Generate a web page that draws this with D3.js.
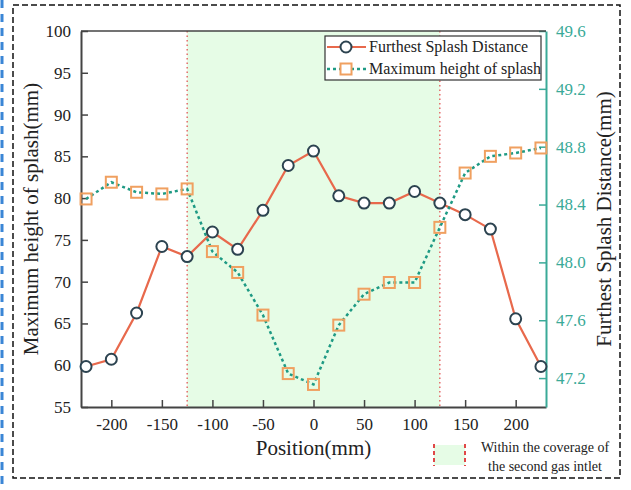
<!DOCTYPE html>
<html><head><meta charset="utf-8">
<script src="https://cdn.jsdelivr.net/npm/d3@7"></script>
<style>body{margin:0;background:#fff;}svg{display:block;font-family:"Liberation Serif","Times New Roman",serif;}</style>
</head><body>
<script>
const positions = [-225,-200,-175,-150,-125,-100,-75,-50,-25,0,25,50,75,100,125,150,175,200,225];
const furthestDistance = [47.28,47.33,47.65,48.11,48.04,48.21,48.09,48.36,48.67,48.77,48.46,48.41,48.41,48.49,48.41,48.33,48.23,47.61,47.28];
const maxHeight = [79.9,81.9,80.7,80.5,81.1,73.6,71.1,66.0,59.0,57.7,64.8,68.5,69.9,69.9,76.5,83.0,85.0,85.4,86.0];
const xTicks = [-200,-150,-100,-50,0,50,100,150,200];
const leftTicks = [55,60,65,70,75,80,85,90,95,100];
const rightTicks = [47.2,47.6,48.0,48.4,48.8,49.2,49.6];
const bandRange = [-125,125];
const seriesNames = ["Furthest Splash Distance","Maximum height of splash"];

const W=631,H=490;
const m={l:81,r:546,t:31,b:407};
const svg=d3.select("body").append("svg").attr("width",W).attr("height",H);

const x=d3.scaleLinear().domain([-230,230]).range([m.l,m.r]);
const yL=d3.scaleLinear().domain([55,100]).range([m.b,m.t]);
const yR=d3.scaleLinear().domain([47.0,49.6]).range([m.b,m.t]);

const cOrange="#e8694c", cTeal="#1e9a84", cSquare="#f0a060", cCircle="#2c4350", cAxisR="#3aaa98", cBand="#e6fce6", cRed="#e04848";

// outer frame
svg.append("line").attr("x1",2).attr("x2",2).attr("y1",0).attr("y2",H).attr("stroke","#3b86d6").attr("stroke-width",3).attr("stroke-dasharray","8,6");
svg.append("rect").attr("x",13).attr("y",5).attr("width",607).attr("height",473).attr("fill","none").attr("stroke","#111").attr("stroke-width",1.5).attr("stroke-dasharray","6,3");

// band
svg.append("rect").attr("x",x(bandRange[0])).attr("y",m.t).attr("width",x(bandRange[1])-x(bandRange[0])).attr("height",m.b-m.t).attr("fill",cBand);
bandRange.forEach(v=>svg.append("line").attr("x1",x(v)).attr("x2",x(v)).attr("y1",m.t).attr("y2",m.b).attr("stroke",cRed).attr("stroke-width",1.2).attr("stroke-dasharray","1.5,3"));

// axes
const gx=svg.append("g").attr("transform",`translate(0,${m.b})`).call(d3.axisBottom(x).tickValues(xTicks).tickFormat(d=>String(d)).tickSizeInner(-7).tickSizeOuter(0).tickPadding(11));
gx.selectAll("text").attr("font-size",17).attr("fill","#222").attr("font-family","Liberation Serif");
gx.select(".domain").attr("stroke","#444").attr("stroke-width",2);
gx.selectAll(".tick line").attr("stroke","#444").attr("stroke-width",1.5);

const gl=svg.append("g").attr("transform",`translate(${m.l},0)`).call(d3.axisLeft(yL).tickValues(leftTicks).tickSizeInner(-7).tickSizeOuter(0).tickPadding(10));
gl.selectAll("text").attr("font-size",17).attr("fill","#222").attr("font-family","Liberation Serif");
gl.select(".domain").attr("stroke","#444").attr("stroke-width",2);
gl.selectAll(".tick line").attr("stroke","#444").attr("stroke-width",1.5);

const gr=svg.append("g").attr("transform",`translate(${m.r},0)`).call(d3.axisRight(yR).tickValues(rightTicks).tickFormat(d3.format(".1f")).tickSizeInner(-7).tickSizeOuter(0).tickPadding(10));
gr.selectAll("text").attr("font-size",17).attr("fill",cAxisR).attr("font-family","Liberation Serif");
gr.select(".domain").attr("stroke",cAxisR).attr("stroke-width",2);
gr.selectAll(".tick line").attr("stroke",cAxisR).attr("stroke-width",1.5);

svg.append("line").attr("x1",m.l).attr("x2",m.r).attr("y1",m.t).attr("y2",m.t).attr("stroke","#444").attr("stroke-width",1.5);

// axis titles
svg.append("text").attr("x",(m.l+m.r)/2).attr("y",455).attr("text-anchor","middle").attr("font-size",21).attr("fill","#222").text("Position(mm)");
svg.append("text").attr("transform",`translate(38,${(m.t+m.b)/2}) rotate(-90)`).attr("text-anchor","middle").attr("font-size",21).attr("fill","#222").text("Maximum height of splash(mm)");
svg.append("text").attr("transform",`translate(611,${(m.t+m.b)/2}) rotate(-90)`).attr("text-anchor","middle").attr("font-size",21).attr("fill","#222").text("Furthest Splash Distance(mm)");

// series
const dOrange=positions.map((p,i)=>[p,furthestDistance[i]]);
const dTeal=positions.map((p,i)=>[p,maxHeight[i]]);
svg.append("path").datum(dOrange).attr("fill","none").attr("stroke",cOrange).attr("stroke-width",2.2).attr("d",d3.line().x(d=>x(d[0])).y(d=>yR(d[1])));
svg.append("path").datum(dTeal).attr("fill","none").attr("stroke",cTeal).attr("stroke-width",2.5).attr("stroke-dasharray","3,3").attr("d",d3.line().x(d=>x(d[0])).y(d=>yL(d[1])));
svg.selectAll(".circ").data(dOrange).enter().append("circle").attr("cx",d=>x(d[0])).attr("cy",d=>yR(d[1])).attr("r",5.5).attr("fill","#fff").attr("stroke",cCircle).attr("stroke-width",2);
svg.selectAll(".sq").data(dTeal).enter().append("rect").attr("x",d=>x(d[0])-5.5).attr("y",d=>yL(d[1])-5.5).attr("width",11).attr("height",11).attr("fill","none").attr("stroke",cSquare).attr("stroke-width",2);

// legend
const lg=svg.append("g");
lg.append("rect").attr("x",325).attr("y",36).attr("width",216).attr("height",44).attr("fill","#fff").attr("stroke","#333").attr("stroke-width",1.2);
lg.append("line").attr("x1",327).attr("x2",366).attr("y1",47).attr("y2",47).attr("stroke",cOrange).attr("stroke-width",2.2);
lg.append("circle").attr("cx",346).attr("cy",47).attr("r",5.5).attr("fill","#fff").attr("stroke",cCircle).attr("stroke-width",2);
lg.append("line").attr("x1",327).attr("x2",366).attr("y1",69).attr("y2",69).attr("stroke",cTeal).attr("stroke-width",2.5).attr("stroke-dasharray","3,3");
lg.append("rect").attr("x",340.5).attr("y",63.5).attr("width",11).attr("height",11).attr("fill","#fff").attr("stroke",cSquare).attr("stroke-width",2);
lg.append("text").attr("x",369).attr("y",52).attr("font-size",16).attr("fill","#222").text(seriesNames[0]);
lg.append("text").attr("x",369).attr("y",74).attr("font-size",16).attr("fill","#222").text(seriesNames[1]);

// band legend
svg.append("rect").attr("x",434).attr("y",445).attr("width",31).attr("height",20).attr("fill",cBand);
[434,465].forEach(v=>svg.append("line").attr("x1",v).attr("x2",v).attr("y1",444).attr("y2",466).attr("stroke",cRed).attr("stroke-width",2).attr("stroke-dasharray","4,3"));
svg.append("text").attr("x",545).attr("y",452).attr("text-anchor","middle").attr("font-size",14).attr("fill","#222").text("Within the coverage of");
svg.append("text").attr("x",545).attr("y",471).attr("text-anchor","middle").attr("font-size",14).attr("fill","#222").text("the second gas intlet");
</script>
</body></html>
